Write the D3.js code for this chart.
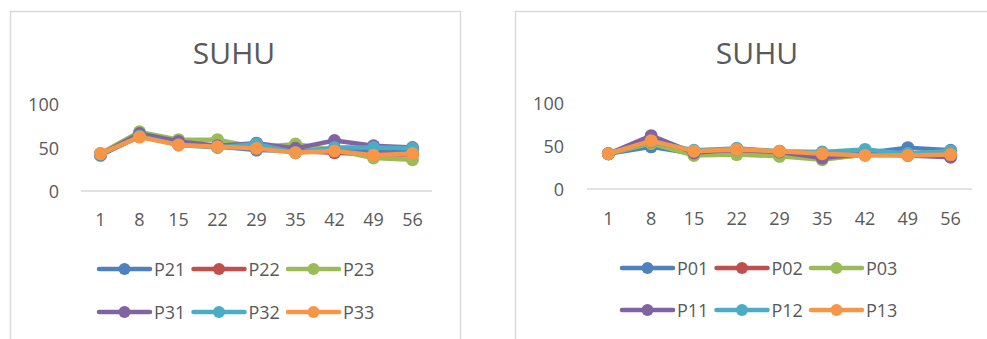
<!DOCTYPE html>
<html>
<head>
<meta charset="utf-8">
<script src="https://cdn.jsdelivr.net/npm/d3@7"></script>
<style>
  html, body { margin: 0; padding: 0; background: #fff; }
  svg { display: block; font-family: "Open Sans", "Noto Sans", sans-serif; }
</style>
</head>
<body>
<svg id="chart" width="987" height="339"></svg>
<script>
// Sampling days shared by both panels
const days = ["1", "8", "15", "22", "29", "35", "42", "49", "56"];
const yTicks = [0, 50, 100];
const palette = ["#4F81BD", "#C0504D", "#9BBB59", "#8064A2", "#4BACC6", "#F79646"];

// Left panel: temperature (SUHU) per plot
const namesLeft = ["P21", "P22", "P23", "P31", "P32", "P33"];
const p21 = [41, 63, 54, 51, 47, 46, 48, 45, 46];
const p22 = [42, 63, 54, 51, 50, 46, 44, 42, 42];
const p23 = [43, 68, 59, 59, 50, 54, 47, 38, 36];
const p31 = [42, 66, 57, 52, 55, 49, 58, 52, 50];
const p32 = [42, 63, 53, 50, 54, 44, 50, 50, 49];
const p33 = [43, 62, 53, 51, 49, 44, 46, 41, 43];

// Right panel: temperature (SUHU) per plot
const namesRight = ["P01", "P02", "P03", "P11", "P12", "P13"];
const p01 = [41, 49, 41, 47, 43, 41, 42, 48, 45];
const p02 = [41, 55, 41, 44, 42, 35, 40, 40, 40];
const p03 = [41, 53, 39, 40, 38, 34, 40, 41, 44];
const p11 = [41, 62, 42, 46, 43, 36, 41, 39, 37];
const p12 = [41, 55, 45, 47, 44, 43, 46, 41, 44];
const p13 = [41, 56, 44, 46, 44, 41, 39, 39, 40];

const seriesLeft = [p21, p22, p23, p31, p32, p33];
const seriesRight = [p01, p02, p03, p11, p12, p13];

const svg = d3.select("#chart");
const textColor = "#595959";
const gridColor = "#D9D9D9";

function drawPanel(opt) {
  const g = svg.append("g");

  // chart area frame
  g.append("rect")
    .attr("x", opt.frame[0] + 0.5).attr("y", opt.frame[1] + 0.5)
    .attr("width", opt.frame[2]).attr("height", opt.frame[3])
    .attr("fill", "#fff").attr("stroke", gridColor).attr("stroke-width", 1.5);

  g.append("text")
    .attr("x", opt.titleX).attr("y", opt.titleY)
    .attr("text-anchor", "middle").attr("dominant-baseline", "central")
    .attr("font-size", 30).attr("fill", textColor)
    .text("SUHU");

  const x = d3.scaleBand().domain(days).range(opt.xRange);
  const y = d3.scaleLinear().domain([0, 100]).range(opt.yRange);

  // baseline axis
  g.append("line")
    .attr("x1", opt.xRange[0]).attr("x2", opt.xRange[1])
    .attr("y1", y(0)).attr("y2", y(0))
    .attr("stroke", gridColor).attr("stroke-width", 1.5);

  // value axis labels
  g.append("g").selectAll("text").data(yTicks).join("text")
    .attr("x", opt.yLabelX).attr("y", d => y(d))
    .attr("text-anchor", "end").attr("dominant-baseline", "central")
    .attr("font-size", 18).attr("fill", textColor)
    .text(d => d);

  // category axis labels
  g.append("g").selectAll("text").data(days).join("text")
    .attr("x", d => x(d) + x.bandwidth() / 2).attr("y", opt.xLabelY)
    .attr("text-anchor", "middle").attr("dominant-baseline", "central")
    .attr("font-size", 18).attr("fill", textColor)
    .text(d => d);

  const line = d3.line()
    .x((d, i) => x(days[i]) + x.bandwidth() / 2)
    .y(d => y(d));

  opt.series.forEach((vals, k) => {
    const s = g.append("g");
    s.append("path").datum(vals)
      .attr("d", line).attr("fill", "none")
      .attr("stroke", palette[k]).attr("stroke-width", 4.5)
      .attr("stroke-linejoin", "round").attr("stroke-linecap", "round");
    s.selectAll("circle").data(vals).join("circle")
      .attr("cx", (d, i) => x(days[i]) + x.bandwidth() / 2)
      .attr("cy", d => y(d))
      .attr("r", 6.5).attr("fill", palette[k]);
  });

  // legend, two rows of three
  opt.names.forEach((name, k) => {
    const col = k % 3, row = Math.floor(k / 3);
    const lx = opt.legendX + col * opt.legendStep;
    const ly = opt.legendY[row];
    const item = g.append("g");
    item.append("line")
      .attr("x1", lx).attr("x2", lx + 51).attr("y1", ly).attr("y2", ly)
      .attr("stroke", palette[k]).attr("stroke-width", 4.5).attr("stroke-linecap", "round");
    item.append("circle")
      .attr("cx", lx + 25.5).attr("cy", ly).attr("r", 6).attr("fill", palette[k]);
    item.append("text")
      .attr("x", lx + 55).attr("y", ly)
      .attr("dominant-baseline", "central")
      .attr("font-size", 18).attr("fill", textColor)
      .text(name);
  });
}

drawPanel({
  frame: [10, 11, 450, 340],
  titleX: 234, titleY: 52,
  xRange: [81, 432], yRange: [191, 104],
  yLabelX: 59, xLabelY: 219,
  series: seriesLeft, names: namesLeft,
  legendX: 99, legendStep: 94.5, legendY: [269, 312]
});

drawPanel({
  frame: [515, 11, 480, 340],
  titleX: 757, titleY: 52,
  xRange: [587, 972], yRange: [189, 103],
  yLabelX: 564, xLabelY: 218,
  series: seriesRight, names: namesRight,
  legendX: 622, legendStep: 94.5, legendY: [268, 310]
});
</script>
</body>
</html>
